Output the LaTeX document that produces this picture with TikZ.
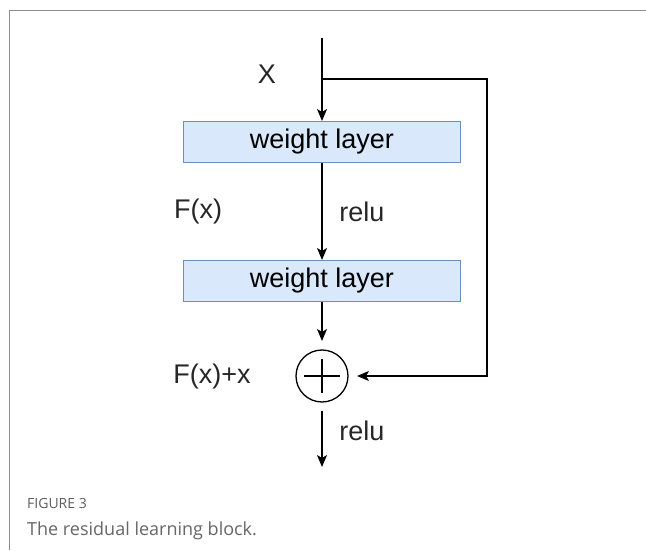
\documentclass[tikz,border=0pt]{standalone}
\usepackage{fontspec}
\setmainfont{Liberation Sans}
\newfontfamily\capfont{Open Sans}
\usetikzlibrary{arrows.meta, positioning}
\definecolor{layerfill}{HTML}{DAE8FC}
\definecolor{layerdraw}{HTML}{6C8EBF}
\definecolor{framegray}{HTML}{8C8C8C}
\definecolor{capgray}{HTML}{666666}

\begin{document}
\begin{tikzpicture}[
    x=1pt, y=1pt,
    font=\fontsize{27}{31}\selectfont,
    layer/.style={rectangle, minimum width=277pt, minimum height=41pt, inner sep=0pt, text centered, draw=layerdraw, fill=layerfill, line width=1pt},
    addop/.style={circle, minimum size=52pt, inner sep=0pt, outer sep=9pt, draw=black, line width=1.3pt},
    arrow/.style={-{Stealth[length=12pt, width=10pt, inset=3pt]}, line width=1.2pt},
    lbl/.style={inner sep=0pt, text=black!85}
]
\useasboundingbox (0,0) rectangle (646,550);

% Frame
\draw[framegray, line width=1pt] (646,539) -- (9,539) -- (9,0);

% Main vertical path
\coordinate (in) at (322,512);
\node[layer, below=83pt of in] (w1) {weight layer};
\node[layer, below=97pt of w1] (w2) {weight layer};
\node[addop, below=39pt of w2] (add) {};
\coordinate[below=56pt of add] (out);
\draw[line width=1.3pt] ([xshift=-18pt]add.center) -- ([xshift=18pt]add.center)
    ([yshift=-17pt]add.center) -- ([yshift=17pt]add.center);

% Arrows
\draw [arrow] (in) -- (w1);
\draw [arrow] (w1) -- (w2);
\draw [arrow] (w2) -- (add);
\draw [arrow] (add) -- (out);

% Shortcut
\coordinate[below=41pt of in] (split);
\coordinate[right=165pt of split] (corner);
\draw [arrow] (split) -- (corner) |- (add.east);

% Labels
\node[lbl] (xlbl) at (267,476) {X};
\node[lbl] (fx) at (198,338) {F(x)};
\node[lbl] (relu1) at (362,338) {relu};
\node[lbl] (fxx) at (212,173) {F(x)+x};
\node[lbl] (relu2) at (362,119) {relu};

% Caption
\node[anchor=west, inner sep=0pt, text=capgray!90!black, font=\capfont\fontsize{14}{16}\selectfont] (fig) at (27,47) {FIGURE 3};
\node[anchor=west, inner sep=0pt, text=capgray, font=\capfont\fontsize{18}{20}\selectfont] (cap) at (27,19) {The residual learning block.};

\end{tikzpicture}
\end{document}
